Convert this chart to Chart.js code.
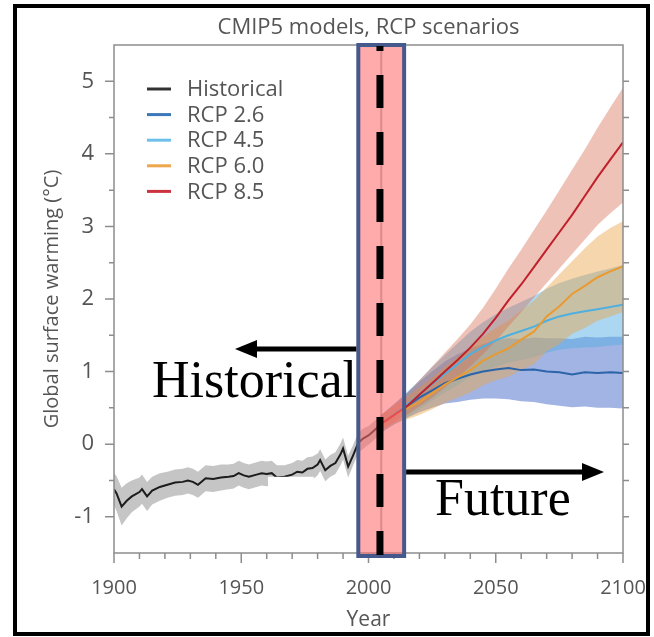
<!DOCTYPE html>
<html>
<head>
<meta charset="utf-8">
<title>CMIP5 models, RCP scenarios</title>
<script src="https://cdn.jsdelivr.net/npm/chart.js@4.4.0/dist/chart.umd.min.js"></script>
<style>
  html, body { margin: 0; padding: 0; background: #fff; }
  canvas { display: block; }
</style>
</head>
<body>
<canvas id="warmChart" width="654" height="637"></canvas>
<script>
// ---- values ----
var seriesNames = ['Historical', 'RCP 2.6', 'RCP 4.5', 'RCP 6.0', 'RCP 8.5'];
var xMajor = [1900, 1950, 2000, 2050, 2100];
var yMajor = [-1, 0, 1, 2, 3, 4, 5];

var histYears = [1900, 1901, 1903, 1905, 1907, 1910, 1911, 1913, 1915, 1918,
  1921, 1924, 1927, 1929, 1931, 1933, 1936, 1939, 1942, 1945,
  1947, 1949, 1951, 1953, 1956, 1958, 1960, 1962, 1964, 1967,
  1970, 1972, 1974, 1976, 1978, 1980, 1981, 1983, 1985, 1987,
  1989, 1990, 1992, 1994, 1996, 1998, 2000, 2002, 2005];
var histMean = [-0.62, -0.68, -0.86, -0.78, -0.72, -0.66, -0.62, -0.72, -0.64, -0.59,
  -0.56, -0.53, -0.52, -0.50, -0.52, -0.56, -0.47, -0.48, -0.46, -0.45,
  -0.44, -0.40, -0.43, -0.45, -0.42, -0.40, -0.41, -0.40, -0.46, -0.45,
  -0.42, -0.38, -0.39, -0.34, -0.33, -0.28, -0.22, -0.36, -0.30, -0.26,
  -0.14, -0.06, -0.31, -0.15, 0.02, 0.08, 0.12, 0.18, 0.28];
var histHi = [-0.40, -0.44, -0.60, -0.54, -0.50, -0.46, -0.42, -0.52, -0.45, -0.40,
  -0.38, -0.35, -0.34, -0.32, -0.34, -0.38, -0.29, -0.30, -0.28, -0.28,
  -0.27, -0.23, -0.26, -0.28, -0.25, -0.23, -0.24, -0.23, -0.29, -0.29,
  -0.26, -0.22, -0.23, -0.18, -0.17, -0.13, -0.07, -0.21, -0.15, -0.11,
  0.01, 0.09, -0.16, -0.01, 0.16, 0.22, 0.25, 0.31, 0.40];
var histLo = [-0.84, -0.92, -1.12, -1.02, -0.94, -0.86, -0.82, -0.92, -0.83, -0.78,
  -0.74, -0.71, -0.70, -0.68, -0.70, -0.74, -0.65, -0.66, -0.64, -0.62,
  -0.61, -0.57, -0.60, -0.62, -0.59, -0.57, -0.58, -0.57, -0.63, -0.61,
  -0.58, -0.54, -0.55, -0.50, -0.49, -0.43, -0.37, -0.51, -0.45, -0.41,
  -0.29, -0.21, -0.46, -0.29, -0.12, -0.06, -0.01, 0.05, 0.16];

var futYears = [2005, 2010, 2015, 2020, 2025, 2030, 2035, 2040, 2045, 2050,
  2055, 2060, 2065, 2070, 2075, 2080, 2085, 2090, 2095, 2100];

var rcp26   = [0.28, 0.41, 0.52, 0.64, 0.74, 0.84, 0.90, 0.96, 1.00, 1.03, 1.05, 1.02, 1.03, 1.00, 0.99, 0.96, 0.99, 0.98, 0.99, 0.98];
var rcp26Hi = [0.40, 0.55, 0.70, 0.86, 1.00, 1.14, 1.24, 1.32, 1.38, 1.43, 1.46, 1.45, 1.47, 1.46, 1.46, 1.45, 1.48, 1.47, 1.48, 1.48];
var rcp26Lo = [0.16, 0.27, 0.36, 0.44, 0.50, 0.56, 0.58, 0.61, 0.63, 0.63, 0.62, 0.59, 0.58, 0.55, 0.53, 0.51, 0.52, 0.50, 0.50, 0.49];

var rcp45   = [0.28, 0.41, 0.54, 0.68, 0.83, 0.97, 1.10, 1.24, 1.34, 1.43, 1.50, 1.56, 1.62, 1.70, 1.76, 1.80, 1.83, 1.86, 1.89, 1.92];
var rcp45Hi = [0.40, 0.55, 0.71, 0.88, 1.06, 1.23, 1.39, 1.55, 1.68, 1.79, 1.88, 1.96, 2.04, 2.14, 2.22, 2.28, 2.33, 2.38, 2.42, 2.47];
var rcp45Lo = [0.16, 0.27, 0.37, 0.48, 0.60, 0.71, 0.81, 0.93, 1.00, 1.07, 1.12, 1.16, 1.20, 1.26, 1.30, 1.32, 1.33, 1.34, 1.36, 1.37];

var rcp60   = [0.28, 0.40, 0.49, 0.58, 0.70, 0.82, 0.92, 1.02, 1.15, 1.24, 1.32, 1.44, 1.55, 1.76, 1.90, 2.07, 2.18, 2.30, 2.38, 2.45];
var rcp60Hi = [0.40, 0.53, 0.65, 0.78, 0.92, 1.07, 1.20, 1.33, 1.48, 1.60, 1.70, 1.84, 1.98, 2.16, 2.34, 2.52, 2.70, 2.86, 2.98, 3.07];
var rcp60Lo = [0.18, 0.28, 0.34, 0.40, 0.48, 0.57, 0.64, 0.71, 0.81, 0.88, 0.93, 1.02, 1.10, 1.28, 1.38, 1.52, 1.60, 1.70, 1.76, 1.82];

var rcp85   = [0.28, 0.40, 0.52, 0.68, 0.84, 1.00, 1.16, 1.33, 1.52, 1.74, 1.98, 2.20, 2.44, 2.68, 2.92, 3.16, 3.42, 3.68, 3.92, 4.16];
var rcp85Hi = [0.40, 0.54, 0.69, 0.88, 1.07, 1.26, 1.45, 1.65, 1.88, 2.14, 2.42, 2.68, 2.95, 3.22, 3.50, 3.78, 4.06, 4.36, 4.64, 4.91];
var rcp85Lo = [0.18, 0.30, 0.40, 0.52, 0.64, 0.78, 0.92, 1.07, 1.24, 1.42, 1.62, 1.82, 2.02, 2.22, 2.42, 2.62, 2.82, 3.02, 3.18, 3.33];

var lineColors = ['#1c1c1c', '#2b64a8', '#4fb0e0', '#e99a30', '#c0202c'];
var legendColors = ['#333333', '#3b78b8', '#6cc0ea', '#eda64a', '#cc3340'];

Chart.defaults.font.family = '"Open Sans", sans-serif';
Chart.defaults.color = '#555';

function pts(xs, ys) {
  return xs.map(function(x, i) { return {x: x, y: ys[i]}; });
}

var datasets = [];

function addLine(xs, ys, color, order) {
  datasets.push({ data: pts(xs, ys), borderColor: color, borderWidth: 2, pointRadius: 0, fill: false, order: order });
}

function addBand(xs, lo, hi, color, order) {
  datasets.push({ data: pts(xs, lo), borderWidth: 0, pointRadius: 0, fill: false, order: order });
  datasets.push({ data: pts(xs, hi), borderWidth: 0, pointRadius: 0, backgroundColor: color, fill: '-1', order: order });
}

// lines (low order = drawn last, on top)
addLine(futYears, rcp85, lineColors[4], 1);
addLine(futYears, rcp60, lineColors[3], 2);
addLine(futYears, rcp45, lineColors[2], 3);
addLine(futYears, rcp26, lineColors[1], 4);
addLine(histYears, histMean, lineColors[0], 5);

// uncertainty bands
addBand(futYears, rcp85Lo, rcp85Hi, 'rgba(215,110,80,0.42)', 7);
addBand(futYears, rcp60Lo, rcp60Hi, 'rgba(235,165,70,0.45)', 8);
addBand(futYears, rcp45Lo, rcp45Hi, 'rgba(90,175,230,0.5)', 9);
addBand(futYears, rcp26Lo, rcp26Hi, 'rgba(70,105,200,0.5)', 10);
addBand(histYears, histLo, histHi, 'rgba(140,140,140,0.5)', 11);

var overlay = {
  id: 'overlay',
  afterDatasetsDraw: function(chart) {
    var c = chart.ctx, xs = chart.scales.x, ys = chart.scales.y, a = chart.chartArea;
    c.save();

    // white patch that hides part of the historical band in the source image
    var wx0 = xs.getPixelForValue(1960.5), wx1 = xs.getPixelForValue(1978.5);
    var wy0 = ys.getPixelForValue(-0.45), wy1 = ys.getPixelForValue(-1.0);
    c.fillStyle = '#fff';
    c.fillRect(wx0, wy0, wx1 - wx0, wy1 - wy0);

    // axis box
    c.strokeStyle = '#8d8d8d';
    c.lineWidth = 1.5;
    c.strokeRect(a.left, a.top, a.right - a.left, a.bottom - a.top);

    // tick marks
    c.beginPath();
    for (var yr = 1900; yr <= 2100; yr += 10) {
      var x = xs.getPixelForValue(yr);
      c.moveTo(x, a.bottom);
      c.lineTo(x, a.bottom + (yr % 50 === 0 ? 10 : 6));
    }
    for (var v = -1; v <= 5.01; v += 0.5) {
      var y = ys.getPixelForValue(v);
      var major = Math.abs(v - Math.round(v)) < 0.01;
      c.moveTo(a.left, y);
      c.lineTo(a.left - (major ? 9 : 5), y);
      c.moveTo(a.right, y);
      c.lineTo(a.right + 6, y);
    }
    c.stroke();

    // legend in the top left corner
    c.font = '22px "Open Sans"';
    c.textBaseline = 'middle';
    c.textAlign = 'left';
    seriesNames.forEach(function(name, i) {
      var ly = a.top + 44 + i * 25.6;
      c.strokeStyle = legendColors[i];
      c.lineWidth = 3;
      c.beginPath();
      c.moveTo(a.left + 33, ly);
      c.lineTo(a.left + 57, ly);
      c.stroke();
      c.fillStyle = '#555';
      c.fillText(name, a.left + 73, ly + 1);
    });
    c.restore();
  },
  afterDraw: function(chart) {
    var c = chart.ctx, xs = chart.scales.x, ys = chart.scales.y, a = chart.chartArea;
    c.save();

    // title
    c.font = '22px "Open Sans"';
    c.fillStyle = '#555';
    c.textAlign = 'center';
    c.textBaseline = 'middle';
    c.fillText('CMIP5 models, RCP scenarios', (a.left + a.right) / 2, 28);

    // highlighted present-day box
    var bx0 = xs.getPixelForValue(1996), bx1 = xs.getPixelForValue(2014);
    c.fillStyle = 'rgba(255,110,110,0.58)';
    c.fillRect(bx0, a.top, bx1 - bx0, a.bottom + 3 - a.top);
    var x05 = xs.getPixelForValue(2005);
    c.strokeStyle = 'rgba(150,60,60,0.3)';
    c.lineWidth = 2;
    c.beginPath();
    c.moveTo(x05, a.top); c.lineTo(x05, a.bottom + 3);
    c.stroke();
    c.strokeStyle = '#46598c';
    c.lineWidth = 4;
    c.strokeRect(bx0, a.top, bx1 - bx0, a.bottom + 3 - a.top);

    // dashed marker line
    var xd = xs.getPixelForValue(2004.5);
    c.strokeStyle = '#000';
    c.lineWidth = 7;
    c.setLineDash([33, 24]);
    c.lineDashOffset = 28;
    c.beginPath();
    c.moveTo(xd, a.top + 1); c.lineTo(xd, a.bottom + 2);
    c.stroke();
    c.setLineDash([]);

    // arrows
    function arrow(x0, x1, y) {
      var dir = x1 > x0 ? 1 : -1;
      c.lineWidth = 5;
      c.beginPath();
      c.moveTo(x0, y); c.lineTo(x1 - dir * 18, y);
      c.stroke();
      c.beginPath();
      c.moveTo(x1, y);
      c.lineTo(x1 - dir * 22, y - 9);
      c.lineTo(x1 - dir * 22, y + 9);
      c.closePath();
      c.fill();
    }
    c.fillStyle = '#000';
    c.strokeStyle = '#000';
    arrow(bx0 - 2, 235, 349);
    arrow(bx1 + 2, 604, 472);

    c.font = '52px "Liberation Serif", "Times New Roman", serif';
    c.textAlign = 'left';
    c.textBaseline = 'alphabetic';
    c.fillText('Historical', 152, 397);
    c.fillText('Future', 435, 515);

    // outer frame
    c.strokeStyle = '#000';
    c.lineWidth = 4;
    c.strokeRect(15, 6, 633, 628);
    c.restore();
  }
};

var ctx = document.getElementById('warmChart').getContext('2d');
var warmChart = new Chart(ctx, {
  type: 'line',
  data: { datasets: datasets },
  options: {
    responsive: false,
    animation: false,
    layout: { padding: { top: 45, right: 31, left: 0, bottom: 0 } },
    elements: { line: { tension: 0 } },
    plugins: {
      legend: { display: false },
      tooltip: { enabled: false },
      title: { display: false }
    },
    scales: {
      x: {
        type: 'linear',
        min: 1900,
        max: 2100,
        afterBuildTicks: function(s) { s.ticks = xMajor.map(function(v) { return {value: v}; }); },
        afterFit: function(s) { s.height = 84; s.paddingLeft = 0; s.paddingRight = 0; },
        grid: { display: false, drawTicks: false },
        border: { display: false },
        ticks: { font: { size: 20 }, color: '#555', padding: 23, maxRotation: 0, autoSkip: false,
          callback: function(v) { return String(v); } },
        title: { display: true, text: 'Year', font: { size: 21 }, color: '#555', padding: { top: 0, bottom: 4 } }
      },
      y: {
        min: -1.5,
        max: 5.5,
        afterBuildTicks: function(s) { s.ticks = yMajor.map(function(v) { return {value: v}; }); },
        afterFit: function(s) { s.width = 114; s.paddingTop = 0; s.paddingBottom = 0; },
        grid: { display: false, drawTicks: false },
        border: { display: false },
        ticks: { font: { size: 22 }, color: '#555', padding: 20 },
        title: { display: true, text: 'Global surface warming (\u00B0C)', font: { size: 20 }, color: '#555', padding: { top: 40, bottom: 0 } }
      }
    }
  },
  plugins: [overlay]
});
</script>
</body>
</html>
